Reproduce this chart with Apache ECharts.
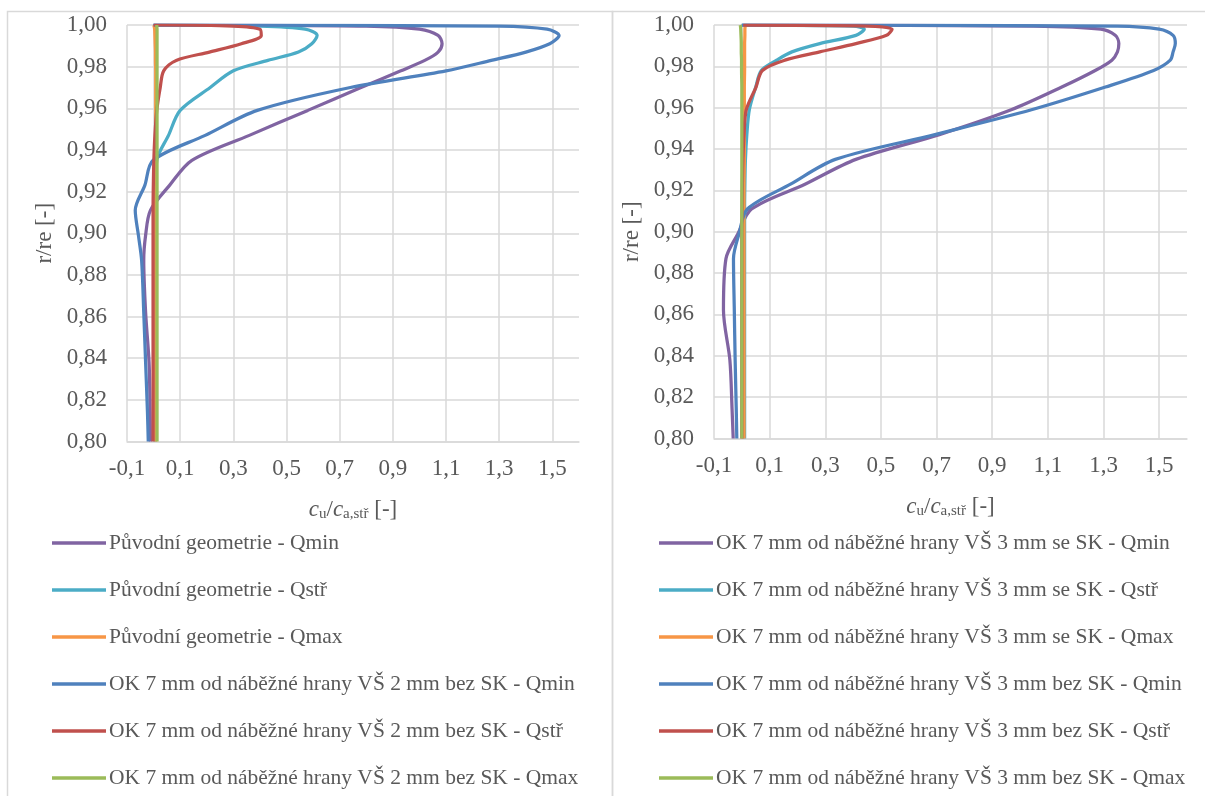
<!DOCTYPE html>
<html>
<head>
<meta charset="utf-8">
<script src="https://cdn.jsdelivr.net/npm/echarts@6/dist/echarts.min.js"></script>
<style>
  html, body { margin: 0; padding: 0; background: #ffffff; }
  #chart { width: 1205px; height: 796px; }
</style>
</head>
<body>
<div id="chart"></div>
<script>
// Radial positions r/re shared by every profile
const radius = [1.000, 0.9995, 0.998, 0.995, 0.991, 0.987, 0.983, 0.978, 0.970, 0.959,
                0.947, 0.935, 0.923, 0.911, 0.899, 0.887, 0.862, 0.838, 0.814, 0.800];

// Left panel: original geometry and OK 7 mm, VŠ 2 mm without SK
const origQmin = [0, 0.80, 1.00, 1.07, 1.085, 1.07, 1.02, 0.93, 0.78, 0.58,
                  0.36, 0.144, 0.06, -0.012, -0.03, -0.037, -0.03, -0.017, -0.013, -0.012];
const origQstr = [0, 0.40, 0.57, 0.615, 0.595, 0.545, 0.43, 0.30, 0.213, 0.10,
                  0.056, 0.012, 0.008, 0.006, 0.005, 0.005, 0.005, 0.005, 0.005, 0.005];
const origQmax = [0, 0.002, 0.004, 0.005, 0.006, 0.007, 0.007, 0.008, 0.008, 0.008,
                  0.008, 0.008, 0.008, 0.008, 0.008, 0.008, 0.008, 0.008, 0.008, 0.008];
const vs2BezQmin = [0, 1.30, 1.48, 1.525, 1.49, 1.40, 1.27, 1.10, 0.74, 0.39,
                    0.194, -0.002, -0.033, -0.069, -0.057, -0.045, -0.037, -0.03, -0.023, -0.02];
const vs2BezQstr = [0, 0.30, 0.40, 0.405, 0.33, 0.21, 0.085, 0.038, 0.025, 0.012,
                    0.005, 0.001, -0.001, -0.002, -0.002, -0.002, -0.002, -0.002, -0.002, -0.002];
const vs2BezQmax = [0.012, 0.012, 0.013, 0.013, 0.013, 0.013, 0.013, 0.013, 0.013, 0.013,
                    0.013, 0.013, 0.013, 0.013, 0.013, 0.013, 0.013, 0.013, 0.013, 0.013];

// Right panel: OK 7 mm, VŠ 3 mm with and without SK
const vs3SeQmin = [0, 1.05, 1.29, 1.342, 1.355, 1.35, 1.33, 1.27, 1.15, 0.968,
                   0.71, 0.41, 0.227, 0.035, -0.014, -0.057, -0.066, -0.043, -0.035, -0.031];
const vs3SeQstr = [0, 0.40, 0.44, 0.41, 0.28, 0.18, 0.125, 0.07, 0.05, 0.027,
                   0.018, 0.013, 0.011, 0.01, 0.01, 0.01, 0.01, 0.01, 0.01, 0.01];
const vs3SeQmax = [0.012, 0.012, 0.011, 0.011, 0.01, 0.01, 0.01, 0.01, 0.009, 0.009,
                   0.009, 0.009, 0.008, 0.008, 0.008, 0.008, 0.008, 0.008, 0.008, 0.008];
const vs3BezQmin = [0, 1.35, 1.50, 1.55, 1.558, 1.55, 1.54, 1.48, 1.307, 1.041,
                    0.694, 0.336, 0.175, 0.02, -0.01, -0.03, -0.027, -0.024, -0.02, -0.018];
const vs3BezQstr = [0.005, 0.45, 0.54, 0.52, 0.41, 0.28, 0.155, 0.074, 0.051, 0.016,
                    0.008, 0.004, 0.002, 0.001, 0, 0, 0, 0, 0, 0];
const vs3BezQmax = [-0.006, -0.005, -0.004, -0.003, -0.002, -0.002, -0.001, -0.001, 0, 0,
                    0, 0, 0, 0, 0, 0, 0, 0, 0, 0];

const leftNames = [
  'Původní geometrie - Qmin',
  'Původní geometrie - Qstř',
  'Původní geometrie - Qmax',
  'OK 7 mm od náběžné hrany VŠ 2 mm bez SK - Qmin',
  'OK 7 mm od náběžné hrany VŠ 2 mm bez SK - Qstř',
  'OK 7 mm od náběžné hrany VŠ 2 mm bez SK - Qmax'
];
const rightNames = [
  'OK 7 mm od náběžné hrany VŠ 3 mm se SK - Qmin',
  'OK 7 mm od náběžné hrany VŠ 3 mm se SK - Qstř',
  'OK 7 mm od náběžné hrany VŠ 3 mm se SK - Qmax',
  'OK 7 mm od náběžné hrany VŠ 3 mm bez SK - Qmin',
  'OK 7 mm od náběžné hrany VŠ 3 mm bez SK - Qstř',
  'OK 7 mm od náběžné hrany VŠ 3 mm bez SK - Qmax'
];
const leftValues = [origQmin, origQstr, origQmax, vs2BezQmin, vs2BezQstr, vs2BezQmax];
const rightValues = [vs3SeQmin, vs3SeQstr, vs3SeQmax, vs3BezQmin, vs3BezQstr, vs3BezQmax];

const xTicks = { min: -0.1, max: 1.6, step: 0.2 };
const yTicks = { min: 0.80, max: 1.00, step: 0.02 };

const colors = ['#8064A2', '#4BACC6', '#F79646', '#4F81BD', '#C0504D', '#9BBB59'];
const FONT = "'Liberation Serif', 'Times New Roman', serif";
const TEXT = '#595959';
const GRID_LINE = '#d9d9d9';

function xAxisFor(gridIndex) {
  return {
    type: 'value', gridIndex,
    min: xTicks.min, max: xTicks.max, interval: xTicks.step,
    axisLine: { show: true, lineStyle: { color: GRID_LINE, width: 1.5 } },
    axisTick: { show: false },
    splitLine: { show: true, showMaxLine: false, lineStyle: { color: GRID_LINE, width: 1.5 } },
    axisLabel: {
      color: TEXT, fontFamily: FONT, fontSize: 23, margin: 16, showMaxLabel: false,
      formatter: v => v.toFixed(1).replace('.', ',')
    },
    name: '{i|c}{s|u}{n|/}{i|c}{s|a,stř}{n| [-]}',
    nameLocation: 'middle', nameGap: 56,
    nameTextStyle: {
      rich: {
        i: { fontFamily: FONT, fontSize: 23, fontStyle: 'italic', color: TEXT, lineHeight: 24, verticalAlign: 'bottom' },
        n: { fontFamily: FONT, fontSize: 23, color: TEXT, lineHeight: 24, verticalAlign: 'bottom' },
        s: { fontFamily: FONT, fontSize: 15, color: TEXT, lineHeight: 14, verticalAlign: 'bottom' }
      }
    }
  };
}

function yAxisFor(gridIndex) {
  return {
    type: 'value', gridIndex,
    min: yTicks.min, max: yTicks.max, interval: yTicks.step,
    axisLine: { show: true, lineStyle: { color: GRID_LINE, width: 1.5 } },
    axisTick: { show: false },
    splitLine: { show: true, lineStyle: { color: GRID_LINE, width: 1.5 } },
    axisLabel: {
      color: TEXT, fontFamily: FONT, fontSize: 23, margin: 20,
      formatter: v => v.toFixed(2).replace('.', ',')
    },
    name: 'r/re [-]',
    nameLocation: 'middle', nameRotate: 90, nameGap: 71,
    nameTextStyle: { color: TEXT, fontFamily: FONT, fontSize: 23 }
  };
}

function buildSeries(names, values, idx) {
  return names.map((name, k) => ({
    name, type: 'line',
    xAxisIndex: idx, yAxisIndex: idx,
    data: radius.map((r, i) => [values[k][i], r]),
    showSymbol: false, symbol: 'none',
    smooth: 0.3,
    lineStyle: { color: colors[k], width: 3.25 },
    itemStyle: { color: colors[k] },
    emphasis: { disabled: true },
    animation: false
  }));
}

function legendFor(names, left) {
  return {
    data: names, orient: 'vertical', left, top: 526, height: 300,
    padding: 5,
    icon: 'rect', itemWidth: 54, itemHeight: 3.5, itemGap: 23,
    selectedMode: false,
    textStyle: { color: TEXT, fontFamily: FONT, fontSize: 21.5, lineHeight: 24, padding: [0, 0, 0, -2] }
  };
}

const chart = echarts.init(document.getElementById('chart'), null, { renderer: 'canvas' });
chart.setOption({
  backgroundColor: '#ffffff',
  animation: false,
  color: colors,
  grid: [
    { left: 127, top: 25, width: 452, height: 416.5 },
    { left: 714, top: 25, width: 473, height: 413.5 }
  ],
  xAxis: [xAxisFor(0), xAxisFor(1)],
  yAxis: [yAxisFor(0), yAxisFor(1)],
  legend: [legendFor(leftNames, 47), legendFor(rightNames, 654)],
  graphic: [
    { type: 'rect', silent: true, shape: { x: 7.5, y: 11.5, width: 605, height: 800 },
      style: { fill: null, stroke: GRID_LINE, lineWidth: 1.5 } },
    { type: 'rect', silent: true, shape: { x: 612.5, y: 11.5, width: 620, height: 800 },
      style: { fill: null, stroke: GRID_LINE, lineWidth: 1.5 } }
  ],
  series: buildSeries(leftNames, leftValues, 0).concat(buildSeries(rightNames, rightValues, 1))
});
</script>
</body>
</html>
